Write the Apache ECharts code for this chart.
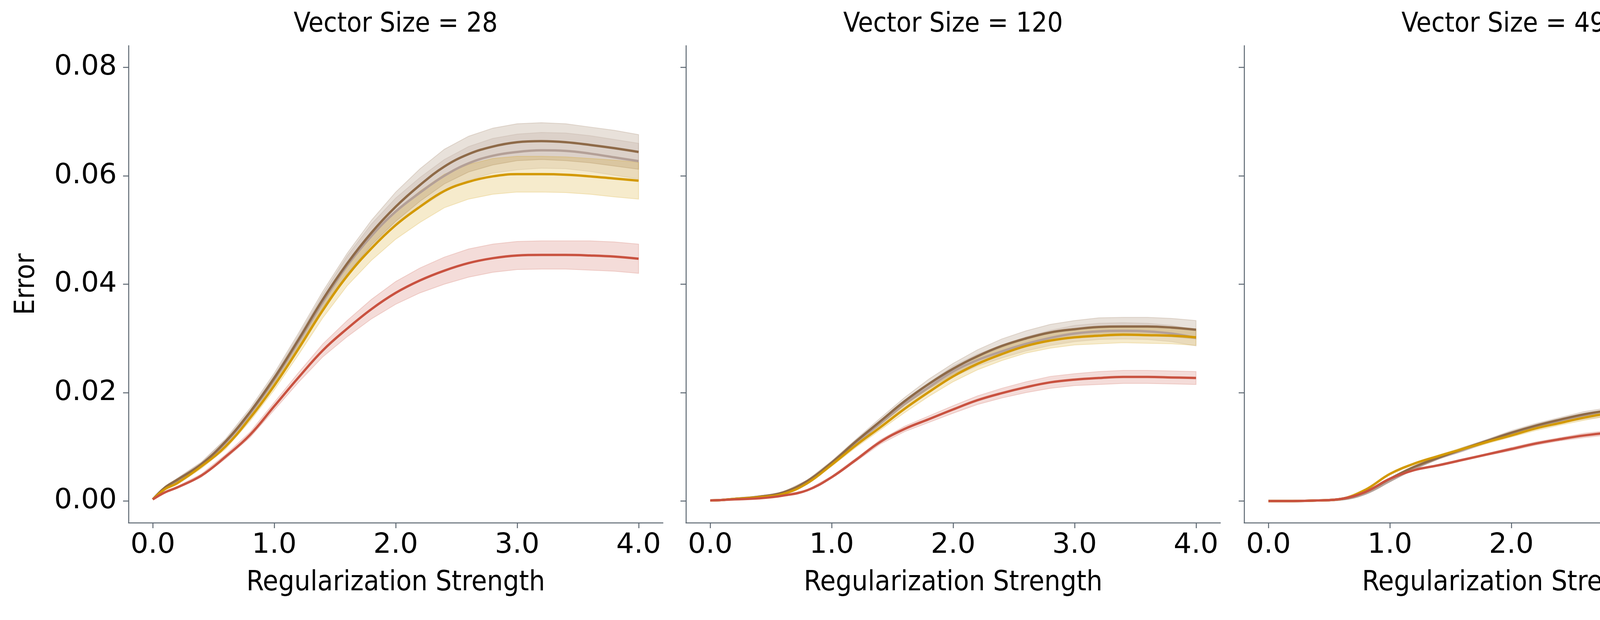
<!DOCTYPE html>
<html>
<head>
<meta charset="utf-8">
<script src="https://cdn.jsdelivr.net/npm/echarts@6/dist/echarts.min.js"></script>
<style>
  html, body { margin: 0; padding: 0; background: #fff; }
  #chart { width: 4622px; height: 1587px; }
</style>
</head>
<body>
<div id="chart"></div>
<script>
// regularization strength sampled along x
const strength = [0, 0.1, 0.2, 0.4, 0.6, 0.8, 1.0, 1.2, 1.4, 1.6, 1.8, 2.0, 2.2, 2.4, 2.6, 2.8, 3.0, 3.2, 3.4, 3.6, 3.8, 4.0]
const rhoLabels = ['0.2', '0.4', '0.6', '0.8']
const vectorSizes = [28, 120, 496]
const xTicks = [0, 1, 2, 3, 4]
const yTicks = [0, 0.02, 0.04, 0.06, 0.08]

// vector size 28, mean error
const err28_02 = [0.0003, 0.0024, 0.0038, 0.0067, 0.0108, 0.0161, 0.0224, 0.0294, 0.0367, 0.0434, 0.0489, 0.0534, 0.0569, 0.0600, 0.0623, 0.0637, 0.0644, 0.0647, 0.0646, 0.0641, 0.0634, 0.0627]
const err28_04 = [0.0003, 0.0025, 0.0039, 0.0068, 0.0110, 0.0164, 0.0227, 0.0298, 0.0372, 0.0438, 0.0495, 0.0543, 0.0583, 0.0617, 0.0640, 0.0654, 0.0662, 0.0664, 0.0662, 0.0657, 0.0651, 0.0644]
const err28_06 = [0.0003, 0.0022, 0.0033, 0.0064, 0.0101, 0.0153, 0.0213, 0.0281, 0.0352, 0.0415, 0.0466, 0.0509, 0.0543, 0.0572, 0.0589, 0.0599, 0.0603, 0.0603, 0.0602, 0.0599, 0.0595, 0.0591]
const err28_08 = [0.0003, 0.0016, 0.0025, 0.0047, 0.0082, 0.0122, 0.0175, 0.0228, 0.0278, 0.0318, 0.0354, 0.0384, 0.0407, 0.0425, 0.0439, 0.0448, 0.0453, 0.0454, 0.0454, 0.0453, 0.0451, 0.0447]
// vector size 28, half width of the band
const ci28_02 = [0, 0.0002, 0.0003, 0.0004, 0.0005, 0.0006, 0.0008, 0.0011, 0.0014, 0.0018, 0.0022, 0.0025, 0.0028, 0.0030, 0.0031, 0.0032, 0.0033, 0.0033, 0.0033, 0.0033, 0.0033, 0.0033]
const ci28_04 = [0, 0.0002, 0.0003, 0.0004, 0.0005, 0.0007, 0.0009, 0.0012, 0.0015, 0.0019, 0.0023, 0.0027, 0.0030, 0.0032, 0.0033, 0.0034, 0.0034, 0.0034, 0.0034, 0.0033, 0.0033, 0.0032]
const ci28_06 = [0, 0.0002, 0.0003, 0.0004, 0.0005, 0.0006, 0.0008, 0.0011, 0.0014, 0.0018, 0.0022, 0.0026, 0.0029, 0.0031, 0.0032, 0.0033, 0.0033, 0.0033, 0.0033, 0.0033, 0.0034, 0.0034]
const ci28_08 = [0, 0.0001, 0.0002, 0.0003, 0.0004, 0.0005, 0.0007, 0.0009, 0.0012, 0.0015, 0.0018, 0.0021, 0.0023, 0.0025, 0.0026, 0.0026, 0.0026, 0.0026, 0.0026, 0.0027, 0.0027, 0.0027]

// vector size 120
const err120_02 = [0.0001, 0.0002, 0.0004, 0.0008, 0.0015, 0.0035, 0.0069, 0.0107, 0.0143, 0.0179, 0.0210, 0.0239, 0.0260, 0.0276, 0.0290, 0.0301, 0.0309, 0.0313, 0.0314, 0.0313, 0.0309, 0.0301]
const err120_04 = [0.0001, 0.0002, 0.0004, 0.0008, 0.0016, 0.0037, 0.0071, 0.0110, 0.0147, 0.0184, 0.0216, 0.0244, 0.0267, 0.0286, 0.0300, 0.0311, 0.0317, 0.0321, 0.0322, 0.0322, 0.0320, 0.0316]
const err120_06 = [0.0001, 0.0002, 0.0004, 0.0007, 0.0013, 0.0033, 0.0067, 0.0103, 0.0136, 0.0170, 0.0201, 0.0230, 0.0253, 0.0271, 0.0286, 0.0296, 0.0302, 0.0305, 0.0307, 0.0306, 0.0305, 0.0302]
const err120_08 = [0.0001, 0.0002, 0.0003, 0.0005, 0.0010, 0.0020, 0.0044, 0.0076, 0.0109, 0.0133, 0.0151, 0.0169, 0.0186, 0.0199, 0.0210, 0.0219, 0.0224, 0.0227, 0.0229, 0.0229, 0.0228, 0.0227]
const ci120_02 = [0, 0, 0, 0.0001, 0.0001, 0.0002, 0.0003, 0.0004, 0.0005, 0.0007, 0.0008, 0.0010, 0.0011, 0.0012, 0.0013, 0.0014, 0.0015, 0.0015, 0.0015, 0.0015, 0.0015, 0.0015]
const ci120_04 = [0, 0, 0, 0.0001, 0.0001, 0.0002, 0.0003, 0.0004, 0.0006, 0.0007, 0.0009, 0.0010, 0.0012, 0.0013, 0.0014, 0.0015, 0.0016, 0.0017, 0.0017, 0.0017, 0.0017, 0.0017]
const ci120_06 = [0, 0, 0, 0.0001, 0.0001, 0.0002, 0.0003, 0.0004, 0.0005, 0.0007, 0.0008, 0.0010, 0.0011, 0.0012, 0.0013, 0.0014, 0.0014, 0.0015, 0.0015, 0.0015, 0.0015, 0.0015]
const ci120_08 = [0, 0, 0, 0.0001, 0.0001, 0.0001, 0.0002, 0.0003, 0.0004, 0.0005, 0.0006, 0.0007, 0.0008, 0.0009, 0.0010, 0.0011, 0.0011, 0.0012, 0.0012, 0.0012, 0.0012, 0.0012]

// vector size 496
const err496_02 = [0, 0, 0, 0.0001, 0.0003, 0.0014, 0.0037, 0.0060, 0.0079, 0.0094, 0.0110, 0.0124, 0.0137, 0.0148, 0.0156, 0.0161, 0.0163, 0.0164, 0.0164, 0.0163, 0.0163, 0.0160]
const err496_04 = [0, 0, 0, 0.0001, 0.0004, 0.0017, 0.0041, 0.0063, 0.0080, 0.0096, 0.0111, 0.0126, 0.0139, 0.0150, 0.0160, 0.0167, 0.0172, 0.0175, 0.0177, 0.0178, 0.0178, 0.0178]
const err496_06 = [0, 0, 0, 0.0001, 0.0004, 0.0021, 0.0050, 0.0069, 0.0083, 0.0096, 0.0109, 0.0121, 0.0134, 0.0144, 0.0154, 0.0162, 0.0168, 0.0172, 0.0175, 0.0177, 0.0179, 0.0180]
const err496_08 = [0, 0, 0, 0.0001, 0.0004, 0.0017, 0.0041, 0.0057, 0.0066, 0.0076, 0.0086, 0.0096, 0.0106, 0.0114, 0.0121, 0.0126, 0.0129, 0.0131, 0.0132, 0.0133, 0.0135, 0.0136]
const ci496_02 = [0, 0, 0, 0, 0, 0.0001, 0.0001, 0.0002, 0.0002, 0.0003, 0.0003, 0.0003, 0.0004, 0.0004, 0.0005, 0.0005, 0.0005, 0.0005, 0.0006, 0.0006, 0.0006, 0.0006]
const ci496_04 = [0, 0, 0, 0, 0, 0.0001, 0.0001, 0.0002, 0.0002, 0.0003, 0.0003, 0.0004, 0.0004, 0.0004, 0.0005, 0.0005, 0.0005, 0.0006, 0.0006, 0.0006, 0.0006, 0.0006]
const ci496_06 = [0, 0, 0, 0, 0, 0.0001, 0.0001, 0.0002, 0.0002, 0.0003, 0.0003, 0.0003, 0.0004, 0.0004, 0.0005, 0.0005, 0.0005, 0.0006, 0.0006, 0.0006, 0.0007, 0.0007]
const ci496_08 = [0, 0, 0, 0, 0, 0.0001, 0.0001, 0.0001, 0.0002, 0.0002, 0.0002, 0.0003, 0.0003, 0.0003, 0.0004, 0.0004, 0.0004, 0.0004, 0.0005, 0.0005, 0.0005, 0.0005]

const means = [
  [err28_02, err28_04, err28_06, err28_08],
  [err120_02, err120_04, err120_06, err120_08],
  [err496_02, err496_04, err496_06, err496_08],
]
const halfWidths = [
  [ci28_02, ci28_04, ci28_06, ci28_08],
  [ci120_02, ci120_04, ci120_06, ci120_08],
  [ci496_02, ci496_04, ci496_06, ci496_08],
]

const colors = ['#b4a097', '#8e6a48', '#d39900', '#c95240']
const axisColor = '#5b6670'
const handFont = '"DejaVu Sans Condensed", "DejaVu Sans", sans-serif'
const gridLeft = [329, 1756, 3185]
const gridWidth = 1368
const gridTop = 117
const gridHeight = 1221

function fade(hex, a) {
  const n = parseInt(hex.slice(1), 16)
  return `rgba(${n >> 16},${(n >> 8) & 255},${n & 255},${a})`
}

const grid = gridLeft.map(left => ({
  left, top: gridTop, width: gridWidth, height: gridHeight,
  containLabel: false, outerBoundsMode: 'none',
}))

const xAxis = gridLeft.map((_, i) => ({
  type: 'value', gridIndex: i, min: -0.2, max: 4.2,
  name: 'Regularization Strength', nameLocation: 'middle', nameGap: 118,
  nameTextStyle: { fontFamily: handFont, fontSize: 72, color: '#000' },
  axisLine: { show: true, onZero: false, lineStyle: { color: axisColor, width: 2.5 } },
  axisTick: { show: true, length: 14, customValues: xTicks, lineStyle: { color: axisColor, width: 2.5 } },
  axisLabel: {
    customValues: xTicks, margin: 22, fontFamily: 'DejaVu Sans', fontSize: 72, color: '#000',
    formatter: v => v.toFixed(1),
  },
  splitLine: { show: false },
}))

const yAxis = gridLeft.map((_, i) => ({
  type: 'value', gridIndex: i, min: -0.004, max: 0.084,
  name: i === 0 ? 'Error' : '', nameLocation: 'middle', nameGap: 225,
  nameTextStyle: { fontFamily: handFont, fontSize: 72, color: '#000' },
  axisLine: { show: true, onZero: false, lineStyle: { color: axisColor, width: 2.5 } },
  axisTick: { show: true, length: 14, customValues: yTicks, lineStyle: { color: axisColor, width: 2.5 } },
  axisLabel: {
    show: i === 0, customValues: yTicks, margin: 30, fontFamily: 'DejaVu Sans', fontSize: 72, color: '#000',
    formatter: v => v.toFixed(2),
  },
  splitLine: { show: false },
}))

const series = []
means.forEach((panel, p) => {
  panel.forEach((mean, k) => {
    const hw = halfWidths[p][k]
    const lo = mean.map((m, i) => m - hw[i])
    const hi = mean.map((m, i) => m + hw[i])
    series.push({
      type: 'custom', name: 'band', xAxisIndex: p, yAxisIndex: p, silent: true, z: 1,
      data: strength.map((x, i) => [x, lo[i], hi[i]]),
      encode: { x: 0, y: [1, 2] },
      renderItem: (params, api) => {
        if (params.dataIndex !== 0) return null
        const pts = []
        strength.forEach((x, i) => pts.push(api.coord([x, hi[i]])))
        for (let i = strength.length - 1; i >= 0; i--) pts.push(api.coord([strength[i], lo[i]]))
        return {
          type: 'polygon', shape: { points: pts },
          style: { fill: fade(colors[k], 0.2), stroke: fade(colors[k], 0.22), lineWidth: 2 },
        }
      },
    })
  })
  panel.forEach((mean, k) => {
    series.push({
      type: 'line', name: rhoLabels[k], xAxisIndex: p, yAxisIndex: p, z: 3,
      data: strength.map((x, i) => [x, mean[i]]),
      smooth: 0.4, symbol: 'none', color: colors[k],
      lineStyle: { width: 6, color: colors[k] },
    })
  })
})

const graphic = vectorSizes.map((size, i) => ({
  type: 'text', x: gridLeft[i] + gridWidth / 2, y: 63,
  style: {
    text: 'Vector Size = ' + size, font: `70px ${handFont}`,
    fill: '#000', textAlign: 'center', textVerticalAlign: 'middle',
  },
}))
graphic.push({
  type: 'rect', z: 0,
  shape: { x: 4276, y: 259, width: 317, height: 450, r: 10 },
  style: { fill: '#fff', stroke: '#d6d6d6', lineWidth: 3 },
})
graphic.push({
  type: 'text', x: 4435, y: 312, z: 1,
  style: {
    text: 'Pearson {i|ρ}', font: '56px "DejaVu Sans"', fill: '#000',
    textAlign: 'center', textVerticalAlign: 'middle',
    rich: { i: { fontStyle: 'italic', fontSize: 56, fontFamily: 'DejaVu Sans' } },
  },
})

const chart = echarts.init(document.getElementById('chart'), null, { renderer: 'canvas' })
chart.setOption({
  animation: false,
  backgroundColor: '#fff',
  grid, xAxis, yAxis, series, graphic,
  legend: {
    data: rhoLabels, orient: 'vertical', left: 4301, top: 366, padding: 0,
    icon: 'rect', itemWidth: 130, itemHeight: 12, itemGap: 30,
    selectedMode: false,
    textStyle: { fontFamily: 'DejaVu Sans', fontSize: 56, lineHeight: 56, color: '#000', padding: [0, 0, 0, 38] },
  },
})
</script>
</body>
</html>
